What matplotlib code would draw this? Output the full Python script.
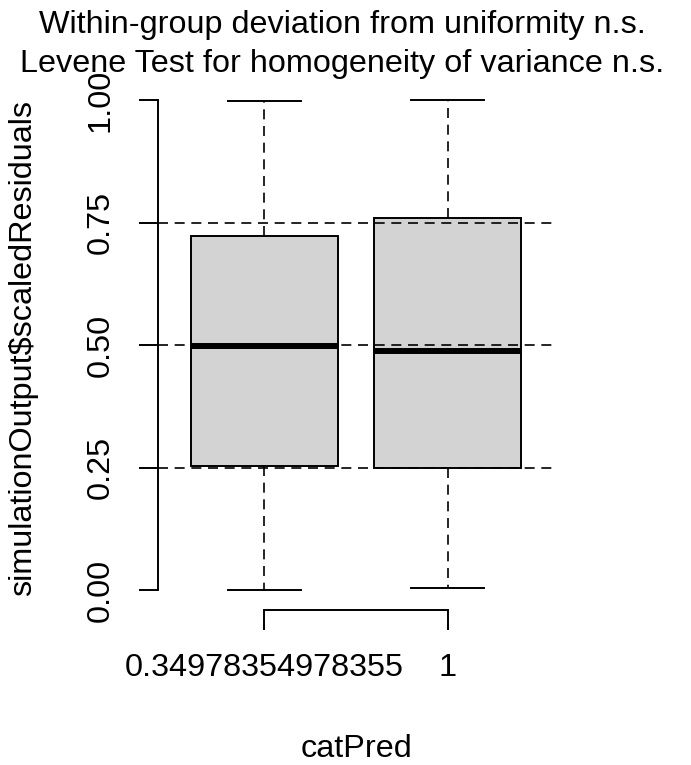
import matplotlib
matplotlib.use("Agg")
import matplotlib.pyplot as plt

plt.rcParams['font.family'] = ['Liberation Sans', 'DejaVu Sans']

groups = ["0.34978354978355", "1"]
q1 = [0.253, 0.248]
median = [0.497, 0.488]
q3 = [0.722, 0.759]
whislo = [0.0, 0.004]
whishi = [0.998, 1.0]
ref_lines = [0.25, 0.5, 0.75]
yticks = [0.0, 0.25, 0.5, 0.75, 1.0]

W, H = 691, 765
fs = 23.3
fig = plt.figure(figsize=(W / 100, H / 100), dpi=100)
ax = fig.add_axes([158 / W, 1 - 609.6 / H, (554 - 158) / W, (609.6 - 80.4) / H])

stats = []
for i in range(len(groups)):
    stats.append(dict(med=median[i], q1=q1[i], q3=q3[i],
                      whislo=whislo[i], whishi=whishi[i], fliers=[]))

dash = (0, (6, 4))
ax.bxp(stats, positions=[1, 2], widths=0.8, capwidths=0.4, patch_artist=True,
       showfliers=False,
       boxprops=dict(facecolor='#d3d3d3', edgecolor='black', linewidth=1.4),
       whiskerprops=dict(color='black', linewidth=1.2, linestyle=dash),
       capprops=dict(color='black', linewidth=1.4),
       medianprops=dict(color='black', linewidth=4.3, solid_capstyle='butt'))

# reference lines at the quartiles of the uniform
for v in ref_lines:
    ax.axhline(v, color='black', linewidth=1.2, linestyle=dash, zorder=5)

ax.set_xlim(0.42, 2.58)
ax.set_ylim(-0.04, 1.04)

for s in ['top', 'right']:
    ax.spines[s].set_visible(False)
ax.spines['left'].set_bounds(0, 1)
ax.spines['bottom'].set_bounds(1, 2)
ax.spines['left'].set_linewidth(1.4)
ax.spines['bottom'].set_linewidth(1.4)

ax.set_yticks(yticks)
ax.set_yticklabels(["%.2f" % t for t in yticks])
ax.set_xticks([1, 2])
ax.set_xticklabels(groups)
ax.tick_params(axis='y', length=13.5, width=1.4, pad=17, labelsize=fs)
ax.tick_params(axis='x', length=14.4, width=1.4, pad=17, labelsize=fs)
for lbl in ax.get_yticklabels():
    lbl.set_rotation(90)
    lbl.set_va('center')

fig.text(342 / W, 1 - 33 / H, "Within-group deviation from uniformity n.s.",
         ha='center', va='baseline', fontsize=fs)
fig.text(342 / W, 1 - 72 / H, "Levene Test for homogeneity of variance n.s.",
         ha='center', va='baseline', fontsize=fs)
fig.text(38 / W, 1 - 348 / H, "simulationOutput\\$scaledResiduals",
         rotation=90, ha='right', va='center', fontsize=fs)
fig.text(357 / W, 1 - 757 / H, "catPred", ha='center', va='baseline', fontsize=fs)

fig.savefig("out.png", dpi=100)
